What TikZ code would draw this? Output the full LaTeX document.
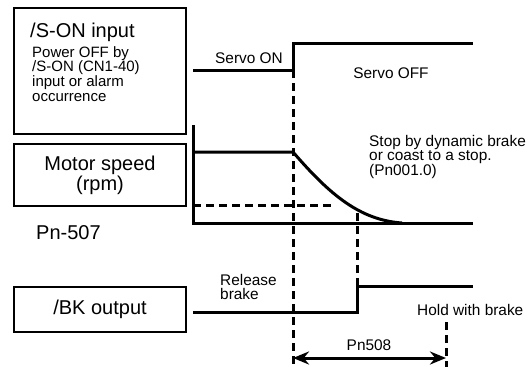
\documentclass[tikz,border=0pt]{standalone}
\usepackage{fontspec}
\setmainfont{Liberation Sans}
\usetikzlibrary{arrows.meta}

\begin{document}
\begin{tikzpicture}[x=1pt, y=-1pt,
  sigbox/.style={draw, line width=2pt, minimum width=172pt, inner sep=0pt, anchor=north west},
  big/.style={font=\fontsize{20}{20}\selectfont},
  small/.style={font=\fontsize{15.4}{15}\selectfont, inner sep=0pt},
  sig/.style={line width=3pt},
  guide/.style={line width=3pt, dash pattern=on 8pt off 5pt},
  span/.style={{Stealth[length=16pt, width=13pt]}-{Stealth[length=16pt, width=13pt]}, line width=3pt}]
  \useasboundingbox (0,0) rectangle (531,367);
  % Signal boxes
  \node[sigbox, minimum height=126pt] (sonbox) at (13,7) {};
  \node[big, anchor=base west, inner sep=0pt] (sontitle) at (30,37) {/S-ON input};
  \node[small, anchor=north west, align=left, font=\fontsize{15}{14.8}\selectfont] (soncause) at (32,46)
    {Power OFF by\\/S-ON (CN1-40)\\input or alarm\\occurrence};
  \node[sigbox, big, align=center, minimum height=62pt] (speedbox) at (13,143) {Motor speed\\(rpm)};
  \node[big, anchor=base west, inner sep=0pt] (pn507) at (36,239) {Pn-507};
  \node[sigbox, big, minimum height=45pt] (bkbox) at (13,286) {/BK output};
  % Waveforms
  \draw[sig] (193,70) -- (293,70) -- (293,43) -- (473,43);
  \draw[sig] (193,125) -- (193,223) -- (473,223);
  \draw[sig] (193,152) -- (293,152) .. controls (330,195) and (360,220) .. (402,223);
  \draw[sig] (193,312) -- (357,312) -- (357,286) -- (473,286);
  % Timing guides
  \draw[guide] (293,70) -- (293,367);
  \draw[guide] (193,205) -- (332,205);
  \draw[guide] (357,213) -- (357,286);
  \draw[guide] (446,322) -- (446,367);
  \draw[span] (293,358) -- (446,358);
  % Labels
  \node[small, anchor=base east] (servoon) at (283,63) {Servo ON};
  \node[small, anchor=base] (servooff) at (391,78) {Servo OFF};
  \node[small, anchor=north west, align=left, font=\fontsize{15.4}{12.6}\selectfont] (stop) at (369,135)
    {Stop by dynamic brake\\or coast to a stop.\\(Pn001.0)};
  \node[small, anchor=north west, align=left, font=\fontsize{15.4}{14.5}\selectfont] (release) at (220,274) {Release\\brake};
  \node[small, anchor=base west] (hold) at (417,315) {Hold with brake};
  \node[small, anchor=base] (pn508) at (369,350) {Pn508};
\end{tikzpicture}
\end{document}
